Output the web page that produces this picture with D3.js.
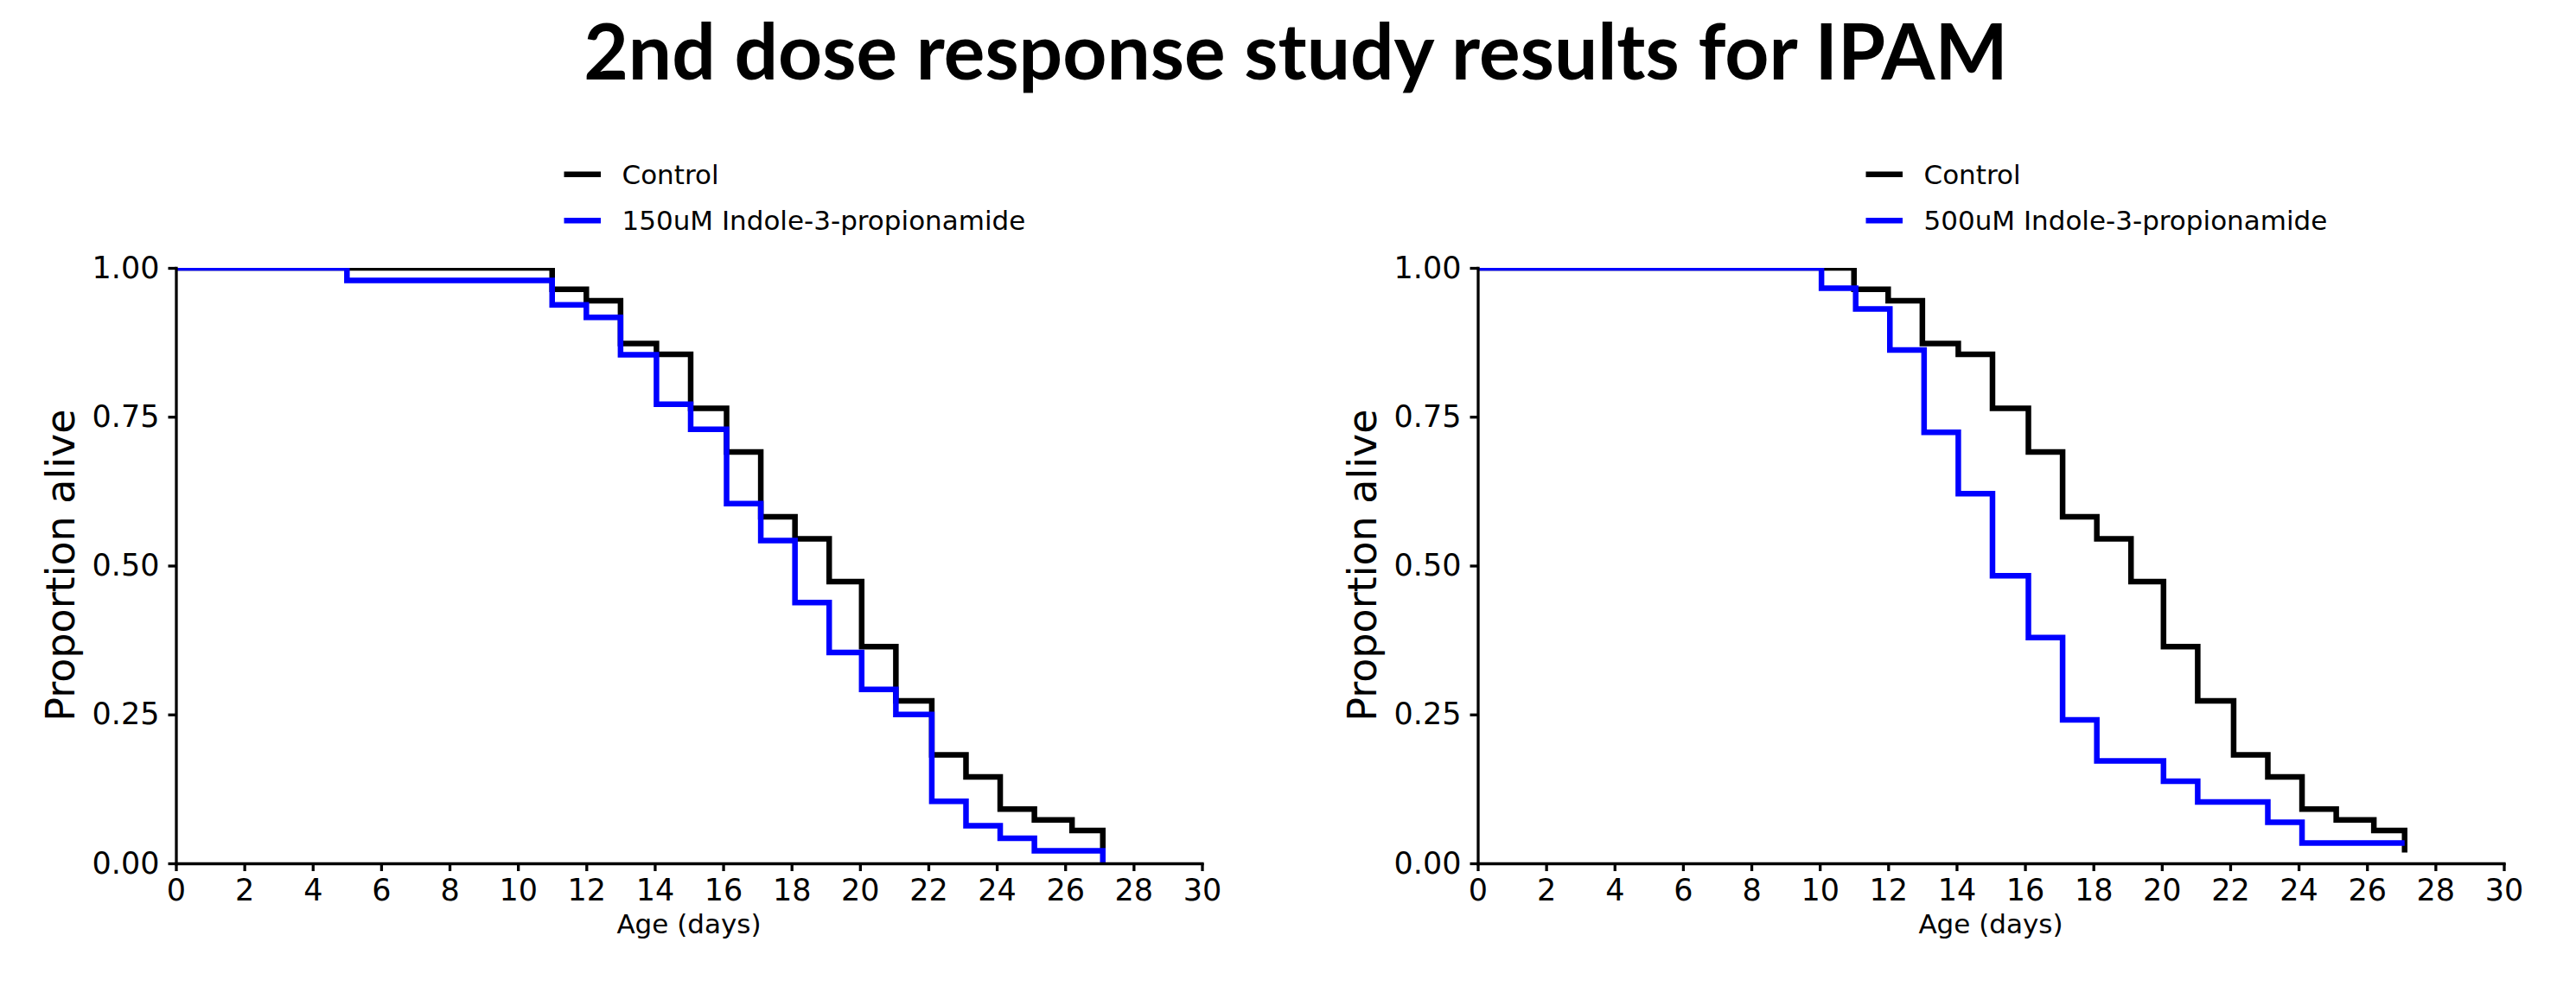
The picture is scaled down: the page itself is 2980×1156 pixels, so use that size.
<!DOCTYPE html>
<html>
<head>
<meta charset="utf-8">
<script src="https://cdn.jsdelivr.net/npm/d3@7"></script>
<style>
  body { margin: 0; background: #fff; }
  svg { display: block; font-family: "DejaVu Sans", sans-serif; }
</style>
</head>
<body>
<svg id="canvas"></svg>
<script>
// Survival curves (proportion alive), drawn as post-steps

let controlDays = [0, 11, 12, 13, 14.05, 15.05, 16.1, 17.1, 18.1, 19.1, 20.05, 21.05, 22.1, 23.1, 24.1, 25.1, 26.2, 27.1]
let controlSurv = [1.000, 0.964, 0.945, 0.873, 0.855, 0.764, 0.691, 0.582, 0.545, 0.473, 0.364, 0.273, 0.182, 0.145, 0.091, 0.073, 0.055, 0.018]

let ipam150Days = [0, 5, 11, 12, 13, 14.05, 15.05, 16.1, 17.1, 18.1, 19.1, 20.05, 21.05, 22.1, 23.1, 24.1, 25.1, 27.1]
let ipam150Surv = [1.000, 0.979, 0.938, 0.917, 0.854, 0.771, 0.729, 0.604, 0.542, 0.438, 0.354, 0.292, 0.250, 0.104, 0.063, 0.042, 0.021, 0.000]

let ipam500Days = [0, 10.05, 11.05, 12.05, 13.05, 14.05, 15.05, 16.1, 17.1, 18.1, 20.05, 21.05, 23.1, 24.1, 27.1]
let ipam500Surv = [1.000, 0.966, 0.931, 0.862, 0.724, 0.621, 0.483, 0.379, 0.241, 0.172, 0.138, 0.103, 0.069, 0.034, 0.034]

let xTicks = [0, 2, 4, 6, 8, 10, 12, 14, 16, 18, 20, 22, 24, 26, 28, 30]
let yTicks = [0, 0.25, 0.5, 0.75, 1]

let titleText = '2nd dose response study results for IPAM'
let controlName = 'Control'
let treatNames = ['150uM Indole-3-propionamide', '500uM Indole-3-propionamide']

// Dimensions
let width = 2980
let height = 1156
let plotTop = 310
let plotBottom = 999
let panelLeft = [203.5, 1709.5]
let panelWidth = 1187

let svg = d3.select('#canvas')
            .attr('width', width)
            .attr('height', height)

let toPoints = (days, surv) => days.map((d, i) => [d, surv[i]])

let panels = [
  { left: panelLeft[0], series: [
      { name: controlName, color: '#000000', pts: toPoints(controlDays, controlSurv) },
      { name: treatNames[0], color: '#0000ff', pts: toPoints(ipam150Days, ipam150Surv) } ] },
  { left: panelLeft[1], series: [
      { name: controlName, color: '#000000', pts: toPoints(controlDays, controlSurv) },
      { name: treatNames[1], color: '#0000ff', pts: toPoints(ipam500Days, ipam500Surv) } ] }
]

let drawPanel = (panel, idx) => {
  let xScale = d3.scaleLinear().domain([0, 30]).range([panel.left, panel.left + panelWidth])
  let yScale = d3.scaleLinear().domain([0, 1]).range([plotBottom, plotTop])

  svg.append('clipPath')
     .attr('id', 'clip' + idx)
     .append('rect')
     .attr('x', panel.left)
     .attr('y', plotTop)
     .attr('width', panelWidth)
     .attr('height', plotBottom - plotTop)

  let line = d3.line()
               .x(d => xScale(d[0]))
               .y(d => yScale(d[1]))
               .curve(d3.curveStepAfter)

  svg.append('g')
     .attr('clip-path', `url(#clip${idx})`)
     .selectAll('path')
     .data(panel.series)
     .enter()
     .append('path')
     .attr('d', s => line(s.pts))
     .attr('fill', 'none')
     .attr('stroke', s => s.color)
     .attr('stroke-width', 6.5)
     .attr('stroke-linejoin', 'miter')

  // axes
  let xAxis = d3.axisBottom(xScale)
                .tickValues(xTicks)
                .tickFormat(d3.format('d'))
                .tickSize(9)
                .tickSizeOuter(0)
                .tickPadding(9)
  let yAxis = d3.axisLeft(yScale)
                .tickValues(yTicks)
                .tickFormat(d3.format('.2f'))
                .tickSize(9)
                .tickSizeOuter(0)
                .tickPadding(10)

  let gx = svg.append('g')
              .attr('transform', `translate(0,${plotBottom})`)
              .call(xAxis)
  let gy = svg.append('g')
              .attr('transform', `translate(${panel.left},0)`)
              .call(yAxis)

  ;[gx, gy].forEach(g => {
    g.attr('font-family', '"DejaVu Sans", sans-serif').attr('font-size', 35)
    g.select('.domain').attr('stroke', '#000').attr('stroke-width', 3.3).attr('stroke-linecap', 'square')
    g.selectAll('.tick line').attr('stroke', '#000').attr('stroke-width', 3.3)
    g.selectAll('.tick text').attr('fill', '#000')
  })

  // axis labels
  svg.append('text')
     .attr('x', panel.left + panelWidth / 2)
     .attr('y', 1080)
     .attr('text-anchor', 'middle')
     .style('font-size', '31px')
     .text('Age (days)')

  svg.append('text')
     .attr('transform', `translate(${panel.left - 118},654) rotate(-90)`)
     .attr('text-anchor', 'middle')
     .style('font-size', '46px')
     .text('Proportion alive')

  // legend
  let legend = svg.append('g')
                  .selectAll('g')
                  .data(panel.series)
                  .enter()
                  .append('g')
                  .attr('transform', (s, i) => `translate(${panel.left + 449},${201.7 + i * 53.5})`)
  legend.append('line')
        .attr('x1', 0).attr('x2', 42.5)
        .attr('y1', 0).attr('y2', 0)
        .attr('stroke', s => s.color)
        .attr('stroke-width', 6.5)
  legend.append('text')
        .attr('x', 67)
        .attr('y', 11)
        .style('font-size', '31px')
        .text(s => s.name)
}

panels.forEach(drawPanel)

// title, fitted to the width it spans in the figure
let title = svg.append('text')
               .attr('x', 1499)
               .attr('y', 92)
               .attr('text-anchor', 'middle')
               .style('font-family', 'Lato, "Open Sans", sans-serif')
               .style('font-weight', 'bold')
               .style('font-size', '84px')
               .text(titleText)
let tw = title.node().getComputedTextLength()
title.style('font-size', (84 * 1648 / tw).toFixed(1) + 'px')
</script>
</body>
</html>
